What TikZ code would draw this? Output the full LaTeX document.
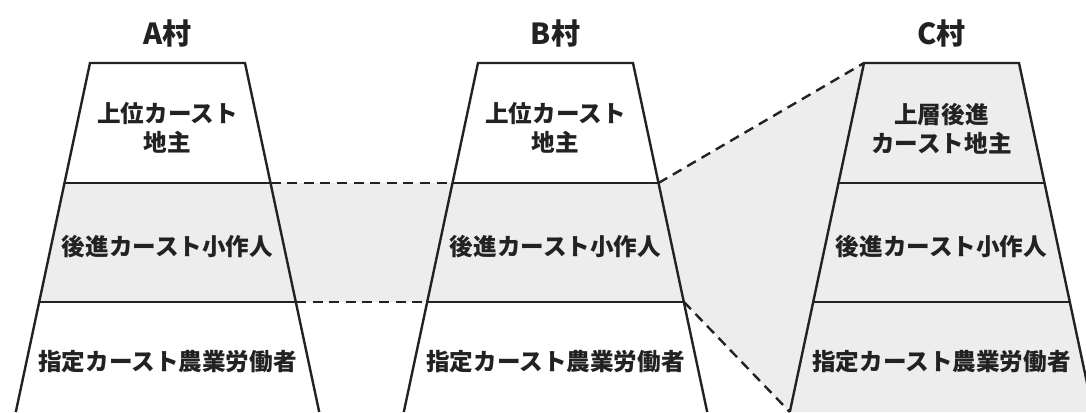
\documentclass[tikz,border=0pt]{standalone}
\usepackage{fontspec}
\setmainfont{Noto Sans CJK JP}
\definecolor{bandgray}{RGB}{237,237,237}
\definecolor{ink}{RGB}{34,34,34}

\begin{document}
\begin{tikzpicture}[x=0.5pt, y=0.5pt,
        layer/.style={font=\fontsize{11.8}{14.5}\selectfont\bfseries, text=ink, align=center},
        village/.style={font=\fontsize{14.5}{16}\selectfont\bfseries, text=ink},
        edge/.style={draw=ink, line width=1.2pt},
        link/.style={draw=ink, line width=1.2pt, dash pattern=on 5pt off 3.3pt},
        band/.style={fill=bandgray}]
        \clip (0, 0) rectangle (1086, 412);

        % corners of the three trapezoids
        \foreach \v/\c in {A/167.5, B/555.5, C/941.5} {
            \coordinate (\v0l) at ({\c-77.5}, 349);
            \coordinate (\v0r) at ({\c+77.5}, 349);
            \coordinate (\v1l) at ({\c-103}, 229);
            \coordinate (\v1r) at ({\c+103}, 229);
            \coordinate (\v2l) at ({\c-128.5}, 110);
            \coordinate (\v2r) at ({\c+128.5}, 110);
            \coordinate (\v3l) at ({\c-151.7}, 0);
            \coordinate (\v3r) at ({\c+151.7}, 0);
        }

        % grey areas
        \fill[band] (A1l) -- (B1r) -- (B2r) -- (A2l) -- cycle;
        \fill[band] (B1r) -- (C0l) -- (C3l) -- (B2r) -- cycle;
        \fill[band] (C0l) -- (C0r) -- (C3r) -- (C3l) -- cycle;

        % trapezoids
        \foreach \v in {A, B, C} {
            \draw[edge] (\v3l) -- (\v0l) -- (\v0r) -- (\v3r);
            \draw[edge] (\v1l) -- (\v1r);
            \draw[edge] (\v2l) -- (\v2r);
        }

        % dashed links
        \draw[link] (A1r) -- (B1l);
        \draw[link] (A2r) -- (B2l);
        \draw[link] (B1r) -- (C0l);
        \draw[link] (B2r) -- (C3l);

        \node[village] (Atitle) at (167.5, 379) {A村};
        \node[village] (Btitle) at (555.5, 379) {B村};
        \node[village] (Ctitle) at (941.5, 379) {C村};

        \node[layer] (Atop) at (167.5, 284) {上位カースト\\地主};
        \node[layer] (Amid) at (167.5, 165) {後進カースト小作人};
        \node[layer] (Alow) at (167.5, 50) {指定カースト農業労働者};

        \node[layer] (Btop) at (555.5, 284) {上位カースト\\地主};
        \node[layer] (Bmid) at (555.5, 165) {後進カースト小作人};
        \node[layer] (Blow) at (555.5, 50) {指定カースト農業労働者};

        \node[layer] (Ctop) at (941.5, 283) {上層後進\\カースト地主};
        \node[layer] (Cmid) at (941.5, 165) {後進カースト小作人};
        \node[layer] (Clow) at (941.5, 50) {指定カースト農業労働者};
\end{tikzpicture}
\end{document}
